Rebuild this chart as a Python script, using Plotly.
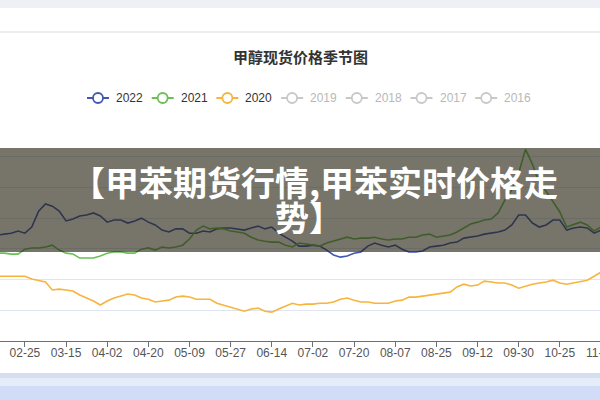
import plotly.graph_objects as go

categories = [
    "02-07", "02-10", "02-13", "02-16", "02-19", "02-22",
    "02-25", "02-28", "03-03", "03-06", "03-09", "03-12",
    "03-15", "03-18", "03-21", "03-24", "03-27", "03-30",
    "04-02", "04-05", "04-08", "04-11", "04-14", "04-17",
    "04-20", "04-23", "04-26", "04-29", "05-05", "05-07",
    "05-09", "05-12", "05-15", "05-18", "05-21", "05-24",
    "05-27", "05-30", "06-02", "06-05", "06-08", "06-11",
    "06-14", "06-17", "06-20", "06-23", "06-26", "06-29",
    "07-02", "07-05", "07-08", "07-11", "07-14", "07-17",
    "07-20", "07-23", "07-26", "07-29", "08-01", "08-04",
    "08-07", "08-10", "08-13", "08-16", "08-19", "08-22",
    "08-25", "08-28", "08-31", "09-03", "09-06", "09-09",
    "09-12", "09-15", "09-18", "09-21", "09-24", "09-27",
    "09-30", "10-09", "10-12", "10-15", "10-18", "10-21",
    "10-25", "10-28", "10-31", "11-03", "11-06", "11-09",
    "11-12", "11-15",
]

tick_labels = ["02-25", "03-15", "04-02", "04-20", "05-09", "05-27", "06-14",
               "07-02", "07-20", "08-07", "08-25", "09-12", "09-30", "10-25", "11-12"]

price_2022 = [
    2690, 2710, 2725, 2740, 2755, 2790,
    2755, 2855, 3115, 3230, 3195, 3115,
    2955, 2985, 3035, 3050, 3085, 3035,
    2935, 2970, 2970, 2920, 2955, 3000,
    2935, 2890, 2805, 2775, 2825, 2825,
    2755, 2755, 2790, 2775, 2825, 2840,
    2840, 2825, 2805, 2840, 2870, 2825,
    2855, 2755, 2690, 2625, 2545, 2545,
    2560, 2545, 2480, 2400, 2365, 2385,
    2430, 2450, 2545, 2595, 2560, 2530,
    2560, 2495, 2450, 2450, 2465, 2530,
    2545, 2560, 2595, 2610, 2675, 2690,
    2710, 2740, 2755, 2775, 2805, 2890,
    3050, 3050, 2920, 2855, 2890, 2970,
    2970, 2805, 2840, 2855, 2840, 2755,
    2805, 2825,
]

price_2021 = [
    2415, 2415, 2430, 2430, 2415, 2415,
    2495, 2515, 2515, 2530, 2560, 2480,
    2430, 2415, 2350, 2350, 2350, 2385,
    2430, 2450, 2450, 2430, 2430, 2495,
    2515, 2480, 2530, 2515, 2530, 2560,
    2660, 2805, 2870, 2825, 2840, 2825,
    2790, 2775, 2755, 2690, 2645, 2625,
    2610, 2610, 2560, 2530, 2595, 2580,
    2560, 2545, 2595, 2625, 2660, 2690,
    2660, 2675, 2675, 2690, 2660, 2645,
    2660, 2660, 2690, 2690, 2725, 2740,
    2690, 2710, 2725, 2775, 2840, 2905,
    2935, 2970, 2985, 3085, 3295, 3460,
    3735, 4120, 3880, 3570, 3440, 3260,
    3100, 2855, 2890, 2935, 2890, 2790,
    2855, 2840,
]

price_2020 = [
    2055, 2055, 2055, 2055, 2055, 2055,
    2055, 2010, 1990, 1960, 1830, 1845,
    1830, 1815, 1750, 1700, 1650, 1585,
    1650, 1700, 1730, 1765, 1750, 1700,
    1680, 1635, 1650, 1665, 1715, 1730,
    1715, 1680, 1680, 1680, 1615, 1585,
    1550, 1520, 1485, 1520, 1535, 1485,
    1470, 1520, 1570, 1615, 1585, 1600,
    1600, 1615, 1615, 1635, 1680, 1700,
    1665, 1635, 1635, 1615, 1615, 1615,
    1650, 1665, 1715, 1715, 1730, 1750,
    1765, 1780, 1795, 1880, 1925, 1895,
    1910, 1975, 1960, 1945, 1945, 1910,
    1860, 1895, 1925, 1945, 1960, 1990,
    1945, 1925, 1945, 1975, 1990, 2055,
    2120, 2155,
]

legend_years = ["2022", "2021", "2020", "2019", "2018", "2017", "2016"]
legend_colors = ["#4256b4", "#6cbf55", "#f7b43e", "#c8c8c8", "#c8c8c8", "#c8c8c8", "#c8c8c8"]
legend_text_colors = ["#333333", "#333333", "#333333", "#b8b8b8", "#b8b8b8", "#b8b8b8", "#b8b8b8"]

title_text = "甲醇现货价格季节图"
banner_line1 = "【甲苯期货行情,甲苯实时价格走"
banner_line2 = "势】"

FIG_W, FIG_H = 620, 400
H_TOP, H_BOT, PH = 126, 341, 215


def py(p):
    return (H_BOT - p) / PH


def px(p):
    return p / FIG_W


fig = go.Figure()

series = [(price_2022, legend_colors[0]), (price_2021, legend_colors[1]), (price_2020, legend_colors[2])]
for vals, col in series:
    fig.add_trace(go.Scatter(x=categories, y=vals, mode="lines",
                             line=dict(color=col, width=1.6), showlegend=False,
                             hoverinfo="skip"))

shapes = [
    dict(type="rect", xref="paper", yref="paper", x0=0, x1=1, y0=py(8), y1=py(-2),
         fillcolor="#eef0f5", line=dict(width=0), layer="below"),
    dict(type="line", xref="paper", yref="paper", x0=0, x1=1, y0=py(32), y1=py(32),
         line=dict(color="#e6e8ec", width=1.5)),
    dict(type="rect", xref="paper", yref="paper", x0=0, x1=1, y0=py(402), y1=py(373),
         fillcolor="#e5ecfa", line=dict(width=0)),
    dict(type="rect", xref="paper", yref="paper", x0=0, x1=1, y0=py(378), y1=py(373),
         fillcolor="#d6dff0", line=dict(width=0)),
    dict(type="rect", xref="paper", yref="paper", x0=0, x1=1, y0=py(402), y1=py(386),
         fillcolor="rgba(185,205,245,0.45)", line=dict(width=0)),
]

annotations = [
    dict(text="<b>%s</b>" % title_text, x=px(300), y=py(57), xref="paper", yref="paper",
         showarrow=False, xanchor="center", yanchor="middle",
         font=dict(family="Noto Sans CJK SC", size=15, color="#333333")),
]

# manual legend (icon: short line with hollow circle, then label)
LEG_Y = 98
for k, (yr, col, tcol) in enumerate(zip(legend_years, legend_colors, legend_text_colors)):
    x0 = 87 + 64.7 * k
    shapes.append(dict(type="line", xref="paper", yref="paper", x0=px(x0), x1=px(x0 + 22),
                       y0=py(LEG_Y), y1=py(LEG_Y), line=dict(color=col, width=2)))
    shapes.append(dict(type="circle", xref="paper", yref="paper",
                       x0=px(x0 + 6), x1=px(x0 + 16), y0=py(LEG_Y + 5), y1=py(LEG_Y - 5),
                       fillcolor="white", line=dict(color=col, width=1.8)))
    annotations.append(dict(text=yr, x=px(x0 + 27), y=py(LEG_Y), xref="paper", yref="paper",
                            showarrow=False, xanchor="left", yanchor="middle",
                            font=dict(family="Liberation Sans, Arial", size=12, color=tcol)))

# overlay banner
shapes.append(dict(type="rect", xref="paper", yref="paper", x0=-0.01, x1=1.01,
                   y0=py(252), y1=py(148), fillcolor="rgba(35,33,15,0.62)",
                   line=dict(width=0), layer="above"))
annotations.append(dict(text="<b>%s</b>" % banner_line1, x=px(314), y=py(181),
                        xref="paper", yref="paper", showarrow=False,
                        xanchor="center", yanchor="middle",
                        font=dict(family="Noto Sans CJK SC", size=34, color="white")))
annotations.append(dict(text="<b>%s</b>" % banner_line2, x=px(309), y=py(216),
                        xref="paper", yref="paper", showarrow=False,
                        xanchor="center", yanchor="middle",
                        font=dict(family="Noto Sans CJK SC", size=34, color="white")))

x_start = 6 - 24.9 / 6.858
x_end = x_start + FIG_W / 6.858

fig.update_layout(
    width=FIG_W, height=FIG_H, autosize=False,
    margin=dict(l=0, r=0, t=H_TOP, b=FIG_H - H_BOT),
    paper_bgcolor="white", plot_bgcolor="white",
    showlegend=False,
    shapes=shapes,
    annotations=annotations,
    xaxis=dict(type="category", categoryorder="array", categoryarray=categories,
               range=[x_start, x_end], tickmode="array", tickvals=tick_labels,
               ticktext=tick_labels, showgrid=False, showline=True,
               linecolor="#6e7079", linewidth=1, ticks="outside", ticklen=5,
               tickcolor="#6e7079", ticklabelstandoff=-4,
               tickfont=dict(family="Liberation Sans, Arial", size=12, color="#555555"),
               fixedrange=True, zeroline=False),
    yaxis=dict(range=[1000, 4500], dtick=500, tick0=1000, showgrid=True,
               gridcolor="#e0e6f1", gridwidth=1, showticklabels=False,
               zeroline=False, showline=False, fixedrange=True),
)

fig.write_html("out.html", config={"displayModeBar": False},
               post_script="document.body.style.margin='0px';document.body.style.overflow='hidden';")
